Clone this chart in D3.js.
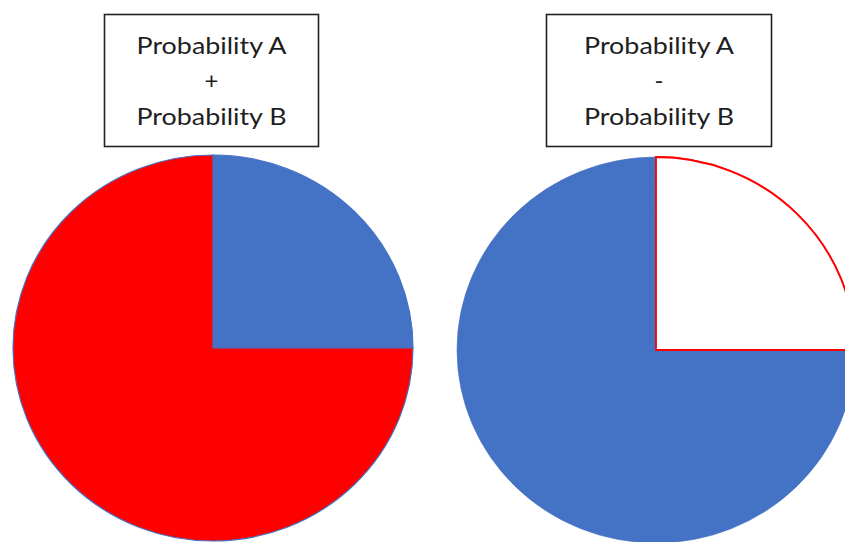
<!DOCTYPE html>
<html>
<head>
<meta charset="utf-8">
<script src="https://cdn.jsdelivr.net/npm/d3@7"></script>
<style>
  html, body { margin: 0; padding: 0; background: #fff; }
  svg { display: block; }
</style>
</head>
<body>
<svg id="chart" width="845" height="542"></svg>
<script>
// Two pies: "A + B" (quarter blue, rest red) and "A - B" (quarter removed)
const sumSlices = ["Probability B", "Probability A"];
const sumValues = [25, 75];
const diffSlices = ["Removed", "Remaining"];
const diffValues = [25, 75];
const titleSum = ["Probability A", "+", "Probability B"];
const titleDiff = ["Probability A", "-", "Probability B"];

const BLUE = "#4472C4";
const RED = "#FF0000";

const svg = d3.select("#chart");

const pie = d3.pie().sort(null).value(d => d.v);
const arc = d3.arc().innerRadius(0).outerRadius(1);

function drawPie(cx, cy, rx, ry, names, values, fills, strokes, strokeWidths) {
  const data = names.map((n, i) => ({ n, v: values[i], i }));
  const g = svg.append("g")
    .attr("transform", `translate(${cx},${cy}) scale(${rx},${ry})`);
  g.selectAll("path")
    .data(pie(data))
    .join("path")
    .attr("d", arc)
    .attr("fill", d => fills[d.data.i])
    .attr("stroke", d => strokes[d.data.i])
    .attr("stroke-width", d => strokeWidths[d.data.i])
    .attr("vector-effect", "non-scaling-stroke")
    .attr("stroke-linejoin", "miter");
  return g;
}

function drawTitle(x, y, w, h, lines) {
  svg.append("rect")
    .attr("x", x).attr("y", y).attr("width", w).attr("height", h)
    .attr("fill", "#fff").attr("stroke", "#222").attr("stroke-width", 1.6);
  const cx = x + w / 2;
  svg.append("g").selectAll("text")
    .data(lines)
    .join("text")
    .attr("x", cx)
    .attr("y", (d, i) => y + 31 + i * 35.5)
    .attr("dy", "0.35em")
    .attr("text-anchor", "middle")
    .attr("font-family", "Lato, 'Open Sans', sans-serif")
    .attr("font-size", 24)
    .attr("fill", "#1e1e1e")
    .each(function (d) {
      // the long lines are stretched to the box's text width
      if (d.length > 2) {
        d3.select(this).attr("textLength", 150).attr("lengthAdjust", "spacingAndGlyphs");
      }
    })
    .text(d => d);
}

// Left pie: blue quarter, red remainder, thin blue rim
drawPie(213, 348, 200, 193, sumSlices, sumValues,
  [BLUE, RED], [BLUE, BLUE], [1.2, 1.2]);

// Right pie: white quarter outlined in red, blue remainder
drawPie(656, 350, 199, 193, diffSlices, diffValues,
  ["#FFFFFF", BLUE], [RED, BLUE], [1.8, 0.6]);
// redraw the outlined quarter on top so its full outline is visible
svg.append("g")
  .attr("transform", `translate(656,350) scale(199,193)`)
  .append("path")
  .attr("d", arc(pie(diffSlices.map((n, i) => ({ n, v: diffValues[i], i })))[0]))
  .attr("fill", "#fff").attr("stroke", RED).attr("stroke-width", 1.8)
  .attr("vector-effect", "non-scaling-stroke");

drawTitle(104.5, 14.5, 214, 132, titleSum);
drawTitle(546.5, 14.5, 225, 132, titleDiff);
</script>
</body>
</html>
